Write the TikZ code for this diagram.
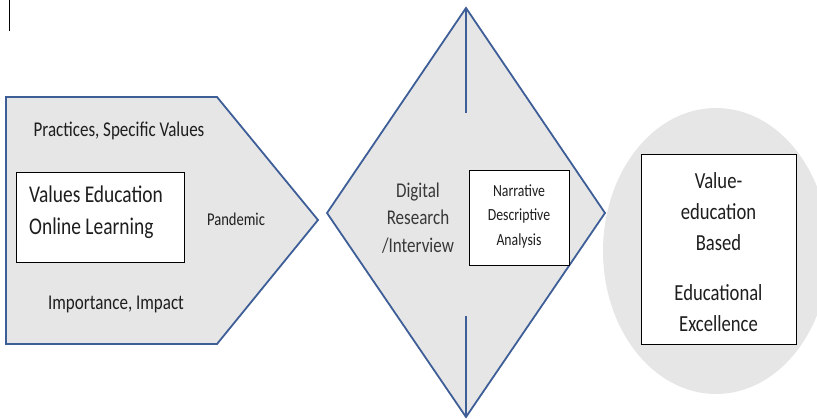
\documentclass[tikz,border=0pt]{standalone}
\usepackage{fontspec}
\usepackage{graphicx}
\setmainfont{Carlito}
\definecolor{shapeblue}{RGB}{62,94,152}
\definecolor{shapefill}{RGB}{230,230,230}
\definecolor{ellfill}{RGB}{230,230,230}
\definecolor{txt}{RGB}{30,30,30}
\newcommand{\nr}[1]{\scalebox{0.81}[1]{#1}}
\begin{document}
\begin{tikzpicture}[x=1pt,y=-1pt,
  shapeln/.style={draw=shapeblue, line width=1.8pt, fill=shapefill, line join=miter},
  divln/.style={draw=shapeblue, line width=1.8pt},
  box/.style={draw=black, line width=1pt, fill=white, inner sep=0pt},
  lbl/.style={text=txt, align=center, inner sep=0pt}]
\useasboundingbox (0,0) rectangle (817,419);
% ellipse background
\fill[ellfill] (716,251) ellipse [x radius=113, y radius=143];
% pentagon arrow
\draw[shapeln] (6,97) -- (217,97) -- (318,220) -- (217,344) -- (6,344) -- cycle;
% diamond
\draw[shapeln] (466,8) -- (605,213) -- (466,417) -- (327,213) -- cycle;
\coordinate (dtop) at (466,8);
\coordinate (dtopend) at (466,113);
\coordinate (dbot) at (466,417);
\coordinate (dbotend) at (466,316);
\draw[divln] (dtop) -- (dtopend);
\draw[divln] (dbotend) -- (dbot);
% cursor mark
\coordinate (cura) at (9,0);
\coordinate (curb) at (9,31);
\draw[black, line width=1pt] (cura) -- (curb);
% left texts
\node[lbl, font=\fontsize{21}{25}\selectfont] (prac) at (119,131) {\nr{Practices, Specific Values}};
\node[box, minimum width=168pt, minimum height=90pt] (vebox) at (100,218) {};
\node[lbl, anchor=west, align=left, font=\fontsize{24}{31.5}\selectfont] (vetext) at (29,212) {\nr{Values Education}\\\nr{Online Learning}};
\node[lbl, font=\fontsize{18}{22}\selectfont] (pand) at (236,219) {\nr{Pandemic}};
\node[lbl, font=\fontsize{21}{25}\selectfont] (imp) at (116,304) {\nr{Importance, Impact}};
% diamond texts
\node[lbl, font=\fontsize{21}{27.5}\selectfont, text=black!78] (digi) at (418,218) {\nr{Digital}\\\nr{Research}\\\nr{/Interview}};
\node[box, minimum width=100pt, minimum height=95pt] (narr) at (519,218.5) {};
\node[lbl, font=\fontsize{17}{24.5}\selectfont] (narrt) at (519,216) {\nr{Narrative}\\\nr{Descriptive}\\\nr{Analysis}};
% right box
\node[box, minimum width=155pt, minimum height=190pt] (resbox) at (718.5,250) {};
\node[lbl, font=\fontsize{23}{31}\selectfont] (rest) at (718.5,252) {\nr{Value-}\\\nr{education}\\\nr{Based}\\[19pt]\nr{Educational}\\\nr{Excellence}};
\end{tikzpicture}
\end{document}
